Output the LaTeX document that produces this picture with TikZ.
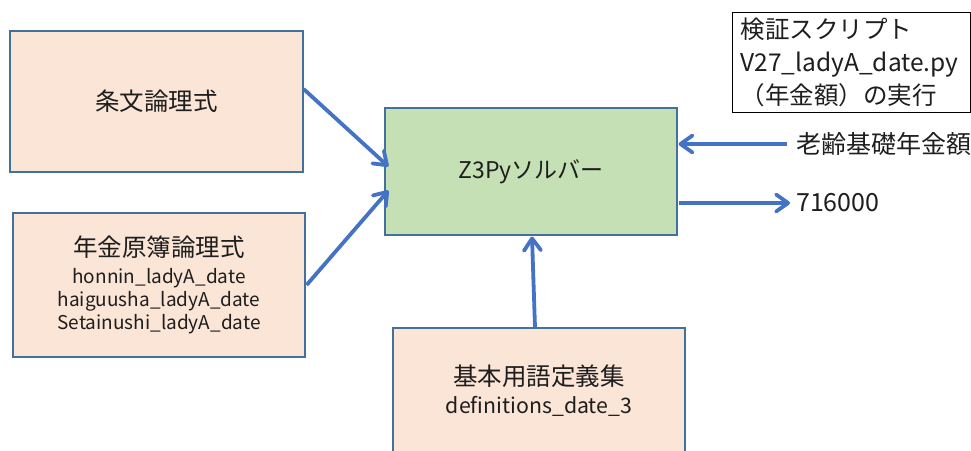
\documentclass[tikz,border=0pt]{standalone}
\usepackage{fontspec}
\setmainfont{Noto Sans CJK JP}
\usetikzlibrary{arrows.meta}
\definecolor{peach}{HTML}{FBE5D6}
\definecolor{mint}{HTML}{C5E0B4}
\definecolor{edgeblue}{HTML}{41719C}
\definecolor{flow}{HTML}{4472C4}
\definecolor{ink}{HTML}{1E1E1E}
\newcommand{\titlesize}{\fontsize{24.5}{28}\selectfont}
\begin{document}
\begin{tikzpicture}[x=1pt,y=-1pt,
  every node/.style={text=ink},
  srcbox/.style={draw=edgeblue,line width=1.2pt,fill=peach,align=center,inner sep=0pt},
  solverbox/.style={draw=edgeblue,line width=1.2pt,fill=mint,align=center,inner sep=0pt},
  big/.style={font=\titlesize},
  link/.style={draw=flow,line width=3.8pt,-{Straight Barb[length=12pt,width=17pt,line width=3.8pt,round]}}
]
\useasboundingbox (0,0) rectangle (971,450);

% input formulas
\node[srcbox,big,minimum width=293pt,minimum height=141pt] (law) at (156.5,101.5) {条文論理式};
\node[srcbox,minimum width=292pt,minimum height=144pt,font=\fontsize{19}{23}\selectfont] (pension) at (159,285)
  {{\titlesize 年金原簿論理式}\\[4pt]
   honnin\_ladyA\_date\\haiguusha\_ladyA\_date\\Setainushi\_ladyA\_date};
\node[srcbox,minimum width=292pt,minimum height=126pt,font=\fontsize{21.3}{28}\selectfont] (terms) at (539,391)
  {{\titlesize 基本用語定義集}\\definitions\_date\_3};

% solver
\node[solverbox,font=\fontsize{23}{28}\selectfont,minimum width=292pt,minimum height=127pt] (solver) at (531,171.5) {Z3Pyソルバー};

% script caption
\node[draw=black,line width=1.2pt,fill=white,align=left,anchor=north west,
      minimum width=238pt,minimum height=100pt,text width=222pt,inner xsep=8pt,inner ysep=0pt,
      font=\fontsize{24.5}{33}\selectfont] (script) at (732,12)
  {検証スクリプト\\V27\_ladyA\_date.py\\（年金額）の実行};

% query and result
\node[anchor=west,inner sep=0pt,font=\fontsize{25}{28}\selectfont] (query) at (796,144) {老齢基礎年金額};
\node[anchor=west,inner sep=0pt,font=\fontsize{25}{28}\selectfont] (result) at (796,203) {716000};

% connectors
\draw[link] ([yshift=12.5pt]law.east) -- ([xshift=4pt,yshift=5pt]solver.west);
\draw[link] ([xshift=1pt]pension.east) -- ([xshift=4pt,yshift=-19pt]solver.west);
\draw[link] ([xshift=-4pt]terms.north) -- ([xshift=1pt,yshift=-1pt]solver.south);
\draw[link] ([xshift=-9pt]query.west) -- ([xshift=1pt]solver.east |- query.west);
\draw[link] ([xshift=1pt]solver.east |- result.west) -- ([xshift=-6pt]result.west);
\end{tikzpicture}
\end{document}
